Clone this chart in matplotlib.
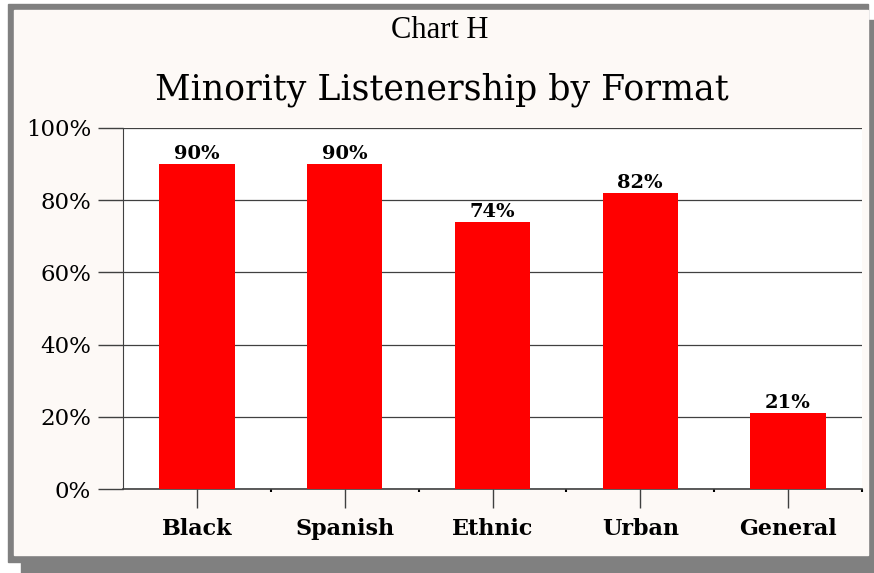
import matplotlib.pyplot as plt
from matplotlib.patches import Rectangle
from matplotlib.ticker import FuncFormatter, FixedLocator

categories = ['Black', 'Spanish', 'Ethnic', 'Urban', 'General']
values = [90, 90, 74, 82, 21]
y_ticks = [0, 20, 40, 60, 80, 100]

W, H = 874, 573
fig = plt.figure(figsize=(W / 100, H / 100), dpi=100)
fig.patch.set_facecolor('white')

# frame: drop shadow, gray border, cream panel
def px(x, y, w, h, **kw):
    fig.patches.append(Rectangle((x / W, 1 - (y + h) / H), w / W, h / H,
                                 transform=fig.transFigure, figure=fig, **kw))

px(21, 20, 853, 553, color='#808080', zorder=-10)
px(8, 4, 860, 558, color='#808080', zorder=-10)
px(14, 10, 854, 545, color='#fdf9f6', zorder=-9)

ax = fig.add_axes([123 / W, 1 - 489 / H, (862 - 123) / W, (489 - 128) / H])
ax.set_facecolor('white')

x = range(len(categories))
ax.bar(x, values, width=0.51, color='#ff0000', zorder=3)
for i, v in enumerate(values):
    ax.text(i, v + 0.3, '%d%%' % v, ha='center', va='bottom',
            fontsize=14, fontweight='bold', family='DejaVu Serif')

ax.set_xlim(-0.5, len(categories) - 0.5)
ax.set_ylim(0, 100)
ax.set_yticks(y_ticks)
ax.yaxis.set_major_formatter(FuncFormatter(lambda v, p: '%d%%' % v))
ax.grid(axis='y', color='#404040', linewidth=0.9, zorder=1)
ax.set_xticks(list(x))
ax.set_xticklabels(categories)
ax.xaxis.set_minor_locator(FixedLocator([0.5, 1.5, 2.5, 3.5, 4.5]))
ax.tick_params(axis='x', which='minor', length=2, width=1.5, color='black')
ax.tick_params(axis='x', which='major', length=14, width=1, color='#404040', pad=7)
ax.tick_params(axis='y', length=18, width=1, color='#404040', pad=5)
for lab in ax.get_xticklabels():
    lab.set_fontsize(16)
    lab.set_fontweight('bold')
    lab.set_family('DejaVu Serif')
for lab in ax.get_yticklabels():
    lab.set_fontsize(16.5)
    lab.set_family('DejaVu Serif')

for s in ['top', 'right']:
    ax.spines[s].set_visible(False)
ax.spines['left'].set_color('#404040')
ax.spines['bottom'].set_color('#404040')
ax.spines['bottom'].set_linewidth(1.2)

fig.text(440 / W, 1 - 30 / H, 'Chart H', ha='center', va='center',
         fontsize=22, family='Liberation Serif')
fig.text(442 / W, 1 - 90 / H, 'Minority Listenership by Format', ha='center',
         va='center', fontsize=25, family='DejaVu Serif')

fig.savefig('out.png', dpi=100)
